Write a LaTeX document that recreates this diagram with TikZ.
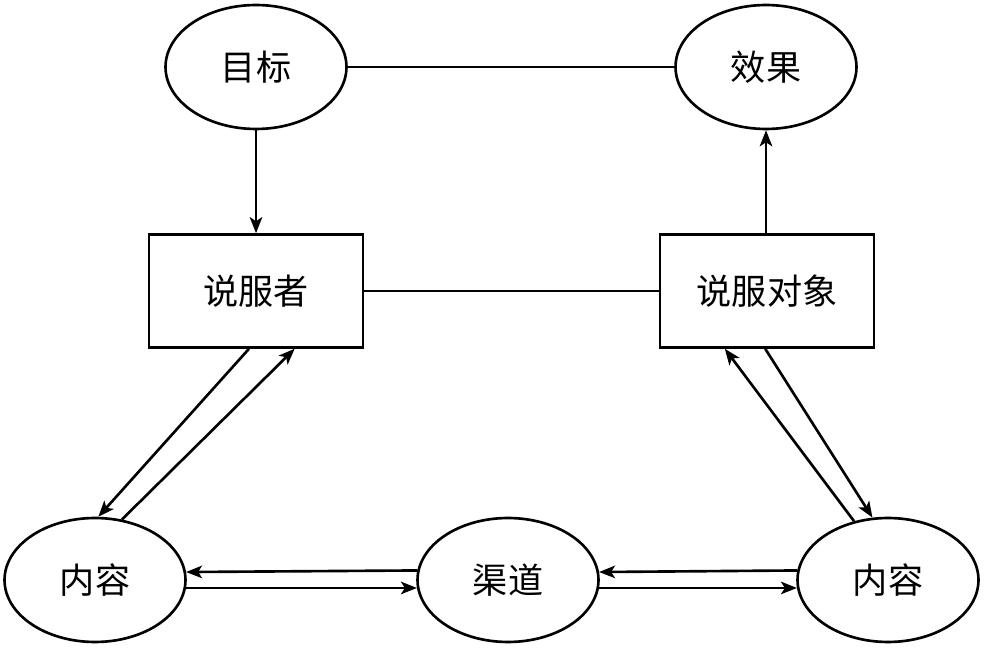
\documentclass[tikz,border=0pt]{standalone}
\usepackage{fontspec}
\newfontfamily\cjk{Noto Sans CJK SC}
\usepackage{tikz}
\usetikzlibrary{arrows.meta,shapes.geometric}

\begin{document}
\begin{tikzpicture}[
    x=0.02cm, y=-0.02cm,
    oval/.style={ellipse, draw, line width=1.5pt, minimum width=3.62cm,
                 minimum height=2.48cm, inner sep=0pt, font=\cjk\fontsize{20}{24}\selectfont},
    box/.style={rectangle, draw, line width=1.5pt, minimum width=4.28cm,
                minimum height=2.26cm, font=\cjk\fontsize{20}{24}\selectfont},
    link/.style={line width=1.5pt},
    arrow/.style={line width=1.5pt, -{Stealth[length=0.32cm, width=0.25cm, inset=0.08cm]}}
  ]
    \useasboundingbox (0,0) rectangle (984,651);
    % top row
    \node[oval] (goal)   at (256,67)  {目标};
    \node[oval] (effect) at (766,67)  {效果};
    % middle row
    \node[box]  (sender) at (256,291) {说服者};
    \node[box]  (target) at (767,291) {说服对象};
    % bottom row
    \node[oval] (lcont)  at (95,580)  {内容};
    \node[oval] (chan)   at (508,580) {渠道};
    \node[oval] (rcont)  at (888,580) {内容};
    % connectors
    \draw[link]  (goal) -- (effect);
    \draw[link]  (sender) -- (target);
    \draw[arrow] (goal) -- (sender);
    \draw[arrow] (target.north -| effect) -- (effect);
    \draw[arrow] (lcont.66) -- ([xshift=22]sender.south);
    \draw[arrow] ([xshift=-4]sender.south) -- (lcont.87);
    \draw[arrow] (rcont.120) -- ([xshift=-24]target.south);
    \draw[arrow] ([xshift=-1]target.south) -- (rcont.104);
    \draw[arrow] (chan.174.5) -- (lcont.5.5);
    \draw[arrow] (lcont.-5.5) -- (chan.185.5);
    \draw[arrow] (rcont.174.5) -- (chan.5.5);
    \draw[arrow] (chan.-5.5) -- (rcont.185.5);
  \end{tikzpicture}
\end{document}
